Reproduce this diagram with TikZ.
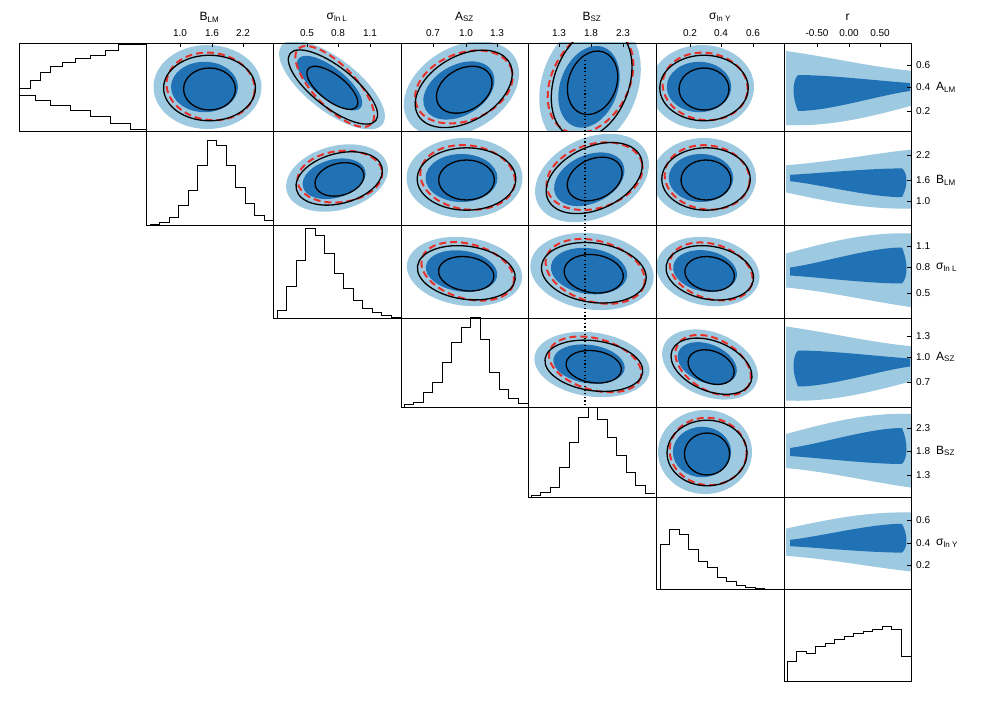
\documentclass[tikz,border=0pt]{standalone}
\usepackage{fontspec}
\setmainfont{Liberation Sans}
\definecolor{lb}{HTML}{9ECAE1}
\definecolor{db}{HTML}{2171B5}
\definecolor{rd}{HTML}{E8312A}
\tikzset{blk/.style={black,line width=1.3pt},red dash/.style={rd,line width=2pt,dash pattern=on 7pt off 4pt},
 frame/.style={black,line width=0.5pt},hst/.style={black,line width=0.4pt},lab/.style={font=\normalsize,inner sep=0pt}}
\newcommand\cont[7]{%
 \pgfmathsetmacro{\xa}{{19,146,273,401,528,656,784,911}[#1]}%
 \pgfmathsetmacro{\xb}{{19,146,273,401,528,656,784,911}[#1+1]}%
 \pgfmathsetmacro{\ya}{{43,131,225,318,407,497,589,681}[#2]}%
 \pgfmathsetmacro{\yb}{{43,131,225,318,407,497,589,681}[#2+1]}%
 \begin{scope}
 \clip (\xa,\ya) rectangle (\xb,\yb);
 \begin{scope}[shift={({(\xa+\xb)/2+#3},{(\ya+\yb)/2+#4})},rotate=-#7]
 \fill[lb] (0,0) ellipse ({#5} and {#6});
 \fill[db] (-3,0) ellipse ({0.62*#5} and {0.6*#6});
 \draw[red dash,rotate=-8] (3,-1) ellipse ({0.82*#5} and {0.8*#6});
 \draw[blk] (2,1) ellipse ({0.85*#5} and {0.78*#6});
 \draw[blk] (2,2) ellipse ({0.48*#5} and {0.5*#6});
 \end{scope}
 \end{scope}}
\newcommand\band[3]{%
 \pgfmathsetmacro{\ya}{{43,131,225,318,407,497,589,681}[#1]}%
 \pgfmathsetmacro{\yb}{{43,131,225,318,407,497,589,681}[#1+1]}%
 \begin{scope}
 \clip (784,\ya) rectangle (911,\yb);
 \begin{scope}[shift={(850,{(\ya+\yb)/2})},yscale=#2,xscale=#3]
 \fill[lb] (-64,-18) .. controls (-20,-30) and (20,-40) .. (64,-38) -- (64,36) .. controls (20,30) and (-20,20) .. (-64,16) -- cycle;
 \fill[db] (-60,-4) .. controls (-30,-8) and (20,-24) .. (52,-24) .. controls (58,-10) and (58,6) .. (52,12) .. controls (20,12) and (-30,6) .. (-60,4) -- cycle;
 \end{scope}
 \end{scope}}
\newcommand\hist[4]{% x0, ybottom, width, heights
 \draw[hst] (#1,#2) \foreach \h [count=\i] in {#4} { -- ({#1+(\i-1)*#3},{#2-\h}) -- ({#1+\i*#3},{#2-\h}) } -- ++(0,0);}
\begin{document}
\begin{tikzpicture}[x=1pt,y=-1pt]
\fill[white] (0,0) rectangle (981,701);
% contours
\cont{1}{0}{-2}{0}{54}{42}{0}
\cont{2}{0}{-5}{-2}{64}{26}{38}
\cont{3}{0}{-3}{2}{62}{42}{-30}
\cont{4}{0}{-2}{-3}{68}{48}{-70}
\cont{5}{0}{-18}{0}{52}{42}{0}
\cont{2}{1}{0}{0}{52}{32}{-15}
\cont{3}{1}{0}{0}{58}{40}{0}
\cont{4}{1}{0}{0}{60}{40}{-25}
\cont{5}{1}{-16}{0}{52}{40}{0}
\cont{3}{2}{0}{0}{58}{34}{8}
\cont{4}{2}{0}{0}{62}{38}{8}
\cont{5}{2}{-12}{0}{52}{34}{10}
\cont{4}{3}{0}{2}{58}{32}{8}
\cont{5}{3}{-10}{2}{50}{32}{22}
\cont{5}{4}{-15}{0}{47}{42}{0}
\band{0}{-1}{-1}\band{1}{-0.8}{1}\band{2}{1}{1}\band{3}{-1}{-1}\band{4}{1}{1}\band{5}{0.8}{1}
\draw[black,line width=1.2pt,dash pattern=on 1.2pt off 2.5pt] (585,60) -- (585,407);
% histograms
\draw[hst] (19,88) -- (30,88) -- (30,80) -- (40,80) -- (40,72) -- (50,72) -- (50,66) -- (62,66) -- (62,62) -- (75,62) -- (75,58) -- (90,58) -- (90,55) -- (105,55) -- (105,50) -- (118,50) -- (118,44) -- (146,44);
\draw[hst] (19,95) -- (35,95) -- (35,100) -- (50,100) -- (50,105) -- (70,105) -- (70,110) -- (90,110) -- (90,116) -- (110,116) -- (110,123) -- (130,123) -- (130,129) -- (146,129);
\hist{150}{225}{9.5}{1,3,8,20,35,60,85,80,60,38,22,10,5}
\hist{277}{318}{9.5}{8,32,58,90,83,65,45,30,18,10,6,3,1}
\hist{404}{407}{9.5}{3,5,15,25,45,65,80,90,68,35,18,9,4}
\hist{531}{497}{9.5}{2,5,10,30,55,80,90,78,60,42,25,12,4}
\hist{660}{589}{9.5}{45,60,55,40,28,22,12,8,4,2,1,0,0}
\hist{787}{681}{9.5}{20,30,28,35,38,42,45,48,50,52,55,52,25}
% frames
\foreach \r in {0,...,6}{\foreach \c in {\r,...,6}{
 \pgfmathsetmacro{\xa}{{19,146,273,401,528,656,784,911}[\c]}
 \pgfmathsetmacro{\xb}{{19,146,273,401,528,656,784,911}[\c+1]}
 \pgfmathsetmacro{\ya}{{43,131,225,318,407,497,589,681}[\r]}
 \pgfmathsetmacro{\yb}{{43,131,225,318,407,497,589,681}[\r+1]}
 \draw[frame] (\xa,\ya) rectangle (\xb,\yb);}}
% column ticks/labels
\foreach \c/\t/\a/\b/\d/\la/\lb/\ld in {1/B\textsubscript{LM}/180/212/243/1.0/1.6/2.2,
 2/σ\textsubscript{ln L}/307/338/370/0.5/0.8/1.1,
 3/A\textsubscript{SZ}/433/466/497/0.7/1.0/1.3,
 4/B\textsubscript{SZ}/559/591/623/1.3/1.8/2.3,
 5/σ\textsubscript{ln Y}/690/721/753/0.2/0.4/0.6,
 6/r/817/849/880/-0.50/0.00/0.50}{
 \pgfmathsetmacro{\xa}{{19,146,273,401,528,656,784,911}[\c]}
 \pgfmathsetmacro{\xb}{{19,146,273,401,528,656,784,911}[\c+1]}
 \node[lab,font=\large] (t\c) at ({(\xa+\xb)/2},17) {\t};
 \node[lab] (ta\c) at (\a,33) {\la};
 \node[lab] (tb\c) at (\b,33) {\lb};
 \node[lab] (td\c) at (\d,33) {\ld};
 \foreach \x in {\a,\b,\d}{\draw[frame] (\x,43) -- (\x,47);}}
\foreach \r/\t/\a/\b/\d/\la/\lb/\ld in {0/A\textsubscript{LM}/65/87/111/0.6/0.4/0.2,
 1/B\textsubscript{LM}/155/180/201/2.2/1.6/1.0,
 2/σ\textsubscript{ln L}/246/267/293/1.1/0.8/0.5,
 3/A\textsubscript{SZ}/336/357/382/1.3/1.0/0.7,
 4/B\textsubscript{SZ}/428/451/475/2.3/1.8/1.3,
 5/σ\textsubscript{ln Y}/520/543/565/0.6/0.4/0.2}{
 \node[lab,anchor=west,font=\large] (s\r) at (936,\b) {\t};
 \node[lab,anchor=west] (sa\r) at (916,\a) {\la};
 \node[lab,anchor=west] (sb\r) at (916,\b) {\lb};
 \node[lab,anchor=west] (sd\r) at (916,\d) {\ld};
 \foreach \y in {\a,\b,\d}{\draw[frame] (911,\y) -- (907,\y);}}
\end{tikzpicture}
\end{document}
